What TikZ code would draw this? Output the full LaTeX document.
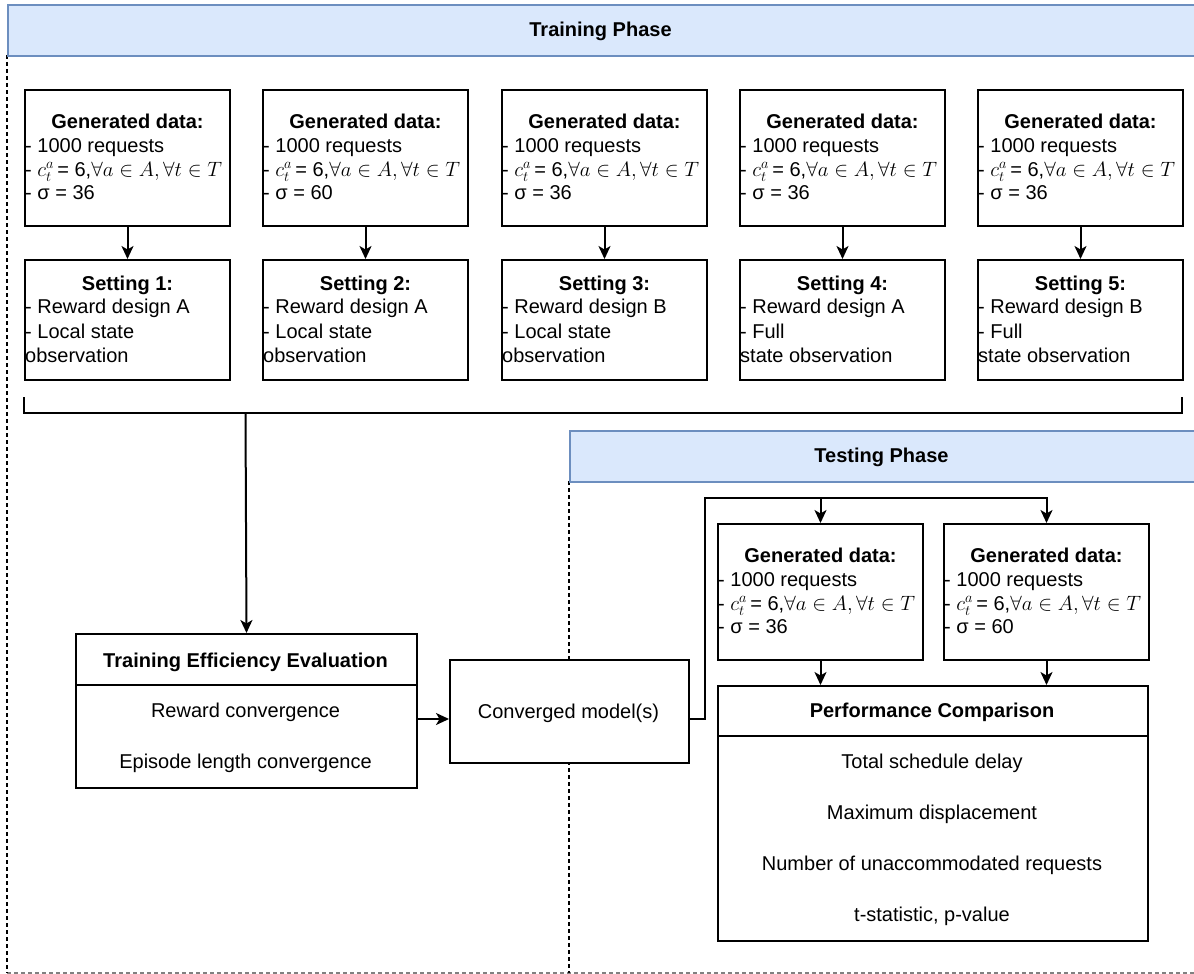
\documentclass[tikz,border=0pt]{standalone}
\usepackage{fontspec}
\setmainfont{Liberation Sans}
\usetikzlibrary{arrows.meta,calc}
\definecolor{phasefill}{HTML}{DAE8FC}
\definecolor{phaseborder}{HTML}{6C8EBF}
\definecolor{laneedge}{HTML}{808080}

% data box: name, left x, top y, sigma value
\newcommand\gendata[4]{%
  \node[box, minimum width=205pt, minimum height=136pt] (#1) at (#2,#3) {};
  \node[txt, anchor=base, font=\fontsize{20}{24}\selectfont\bfseries] (#1t) at ($(#1.north)+(0,39)$) {Generated data:};
  \node[txt, anchor=base west] (#1a) at ($(#1.north west)+(1,63)$) {- 1000 requests};
  \node[txt, anchor=base west] (#1b) at ($(#1.north west)+(1,87.5)$) {- $c_t^a$\,= 6,$\forall a \in A, \forall t \in T$};
  \node[txt, anchor=base west] (#1c) at ($(#1.north west)+(1,110)$) {- σ = #4};
}
% setting box: name, left x, top y, title, three lines
\newcommand\settingcard[7]{%
  \node[box, minimum width=205pt, minimum height=120pt] (#1) at (#2,#3) {};
  \node[txt, anchor=base, font=\fontsize{20}{24}\selectfont\bfseries] (#1t) at ($(#1.north)+(0,31)$) {#4};
  \node[txt, anchor=base west] (#1a) at ($(#1.north west)+(1,54)$) {#5};
  \node[txt, anchor=base west] (#1b) at ($(#1.north west)+(1,79)$) {#6};
  \node[txt, anchor=base west] (#1c) at ($(#1.north west)+(1,103)$) {#7};
}

\begin{document}
\begin{tikzpicture}[x=1pt,y=-1pt,
  txt/.style={inner sep=0pt, font=\fontsize{20}{24}\selectfont},
  ttl/.style={inner sep=0pt, anchor=base, font=\fontsize{20}{24}\selectfont\bfseries},
  box/.style={draw=black, fill=white, line width=2pt, inner sep=0pt, anchor=north west},
  phase/.style={draw=phaseborder, fill=phasefill, line width=2pt, inner sep=0pt, anchor=north west},
  link/.style={line width=2pt, -{Stealth[length=13pt,width=12pt,inset=3.5pt]}},
  wire/.style={line width=2pt},
  lane/.style={line width=1.6pt, dash pattern=on 4pt off 3pt}
]
\useasboundingbox (0,0) rectangle (1194,974);

% swimlane borders
\draw[lane, laneedge] (7,973) -- (1196,973);
\draw[lane] (7,55) -- (7,973);
\draw[lane] (569,481) -- (569,973);

% phase headers
\node[phase, minimum width=1192pt, minimum height=51pt] (trainhead) at (7,4) {};
\node[ttl] (trainlabel) at (600.5,36.7) {Training Phase};

% training data and settings
\gendata{g1}{24}{89}{36}
\gendata{g2}{262}{89}{60}
\gendata{g3}{501}{89}{36}
\gendata{g4}{739}{89}{36}
\gendata{g5}{977}{89}{36}

\settingcard{s1}{24}{259}{Setting 1:}{- Reward design A}{- Local state}{observation}
\settingcard{s2}{262}{259}{Setting 2:}{- Reward design A}{- Local state}{observation}
\settingcard{s3}{501}{259}{Setting 3:}{- Reward design B}{- Local state}{observation}
\settingcard{s4}{739}{259}{Setting 4:}{- Reward design A}{- Full}{state observation}
\settingcard{s5}{977}{259}{Setting 5:}{- Reward design B}{- Full}{state observation}

\foreach \i in {1,...,5} {
  \draw[link] (g\i.south) -- (s\i.north);
}

% bracket collecting all settings
\coordinate (bl) at (24,397);
\coordinate (br) at (1182,397);
\coordinate (bmid) at (245.5,413);
\draw[wire] (bl) -- (bl |- bmid) -- (br |- bmid) -- (br);

% testing header
\node[phase, minimum width=627pt, minimum height=51pt] (testhead) at (569,430) {};
\node[ttl] (testlabel) at (881.5,462.7) {Testing Phase};

% training efficiency evaluation
\node[box, minimum width=341pt, minimum height=154pt] (tee) at (75,633) {};
\draw[wire] (tee.west |- 0,685) -- (tee.east |- 0,685);
\node[ttl] (teet) at (245.5,667) {Training Efficiency Evaluation};
\node[txt, anchor=base] (tee1) at (245.5,717) {Reward convergence};
\node[txt, anchor=base] (tee2) at (245.5,768) {Episode length convergence};

\draw[link] (bmid) -- (tee.north);

% converged models
\node[box, minimum width=239pt, minimum height=103pt] (cm) at (449,659) {};
\node[txt, anchor=base] (cmt) at (568.5,718) {Converged model(s)};
\coordinate (rowy) at (0,719);
\draw[link] (tee.east |- rowy) -- (cm.west |- rowy);

% testing data
\gendata{t1}{717}{523}{36}
\gendata{t2}{943}{523}{60}

% performance comparison
\node[box, minimum width=430pt, minimum height=255pt] (pc) at (717,685) {};
\draw[wire] (pc.west |- 0,736) -- (pc.east |- 0,736);
\node[ttl] (pct) at (932,717) {Performance Comparison};
\node[txt, anchor=base] (pc1) at (932,768) {Total schedule delay};
\node[txt, anchor=base] (pc2) at (932,819) {Maximum displacement};
\node[txt, anchor=base] (pc3) at (932,870) {Number of unaccommodated requests};
\node[txt, anchor=base] (pc4) at (932,921) {t-statistic, p-value};

% fan-out of the converged models to both test sets
\coordinate (fork) at (705,498);
\draw[link] (cm.east |- rowy) -| (fork) -| (t2.north);
\draw[link] (t1.north |- fork) -- (t1.north);
\draw[link] (t1.south) -- (pc.north -| t1.south);
\draw[link] (t2.south) -- (pc.north -| t2.south);
\end{tikzpicture}
\end{document}
